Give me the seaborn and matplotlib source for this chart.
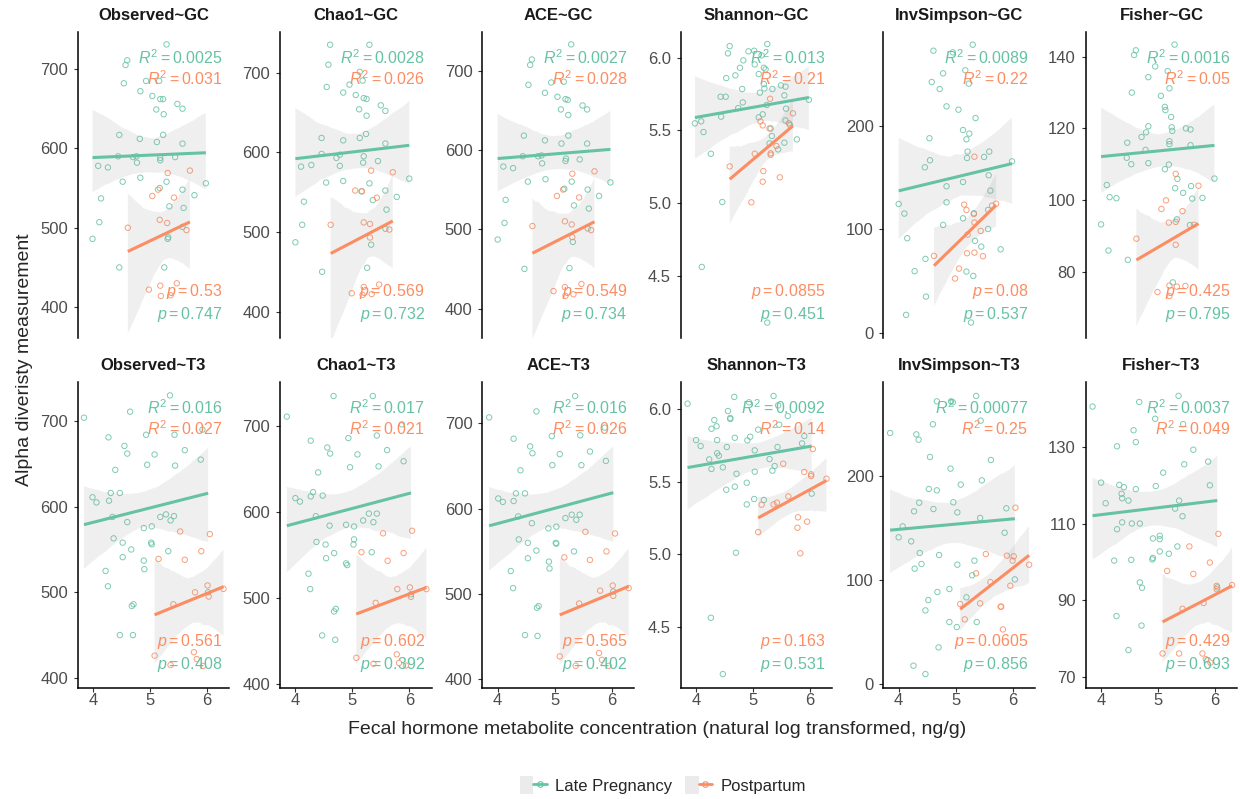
import numpy as np
import pandas as pd
import seaborn as sns
import matplotlib
matplotlib.use("Agg")
import matplotlib.pyplot as plt
from matplotlib.lines import Line2D
from matplotlib.patches import Patch
from matplotlib.legend_handler import HandlerTuple

# ---------------- data ----------------
metrics = ["Observed", "Chao1", "ACE", "Shannon", "InvSimpson", "Fisher"]
hormones = ["GC", "T3"]
groups = ["Late Pregnancy", "Postpartum"]

obs_gc_lp = [(5.29,731),(4.60,711),(4.57,705),(4.54,682),(4.93,685),(5.16,685),(4.83,672),(5.04,666),(5.18,662),(5.23,662),(5.48,656),(5.57,650),(5.11,649),(5.24,643),(4.46,617),(4.82,612),(5.23,617),(5.12,608),(5.57,606),(4.09,578),(4.26,576),(4.44,590),(4.70,589),(4.76,590),(4.77,582),(5.18,588),(5.18,585),(5.44,589),(4.52,558),(4.83,563),(5.29,558),(5.17,550),(5.57,548),(5.98,556),(5.78,541),(4.14,537),(5.34,527),(5.59,525),(4.11,507),(3.99,486),(5.31,486),(4.46,450),(5.25,450),(5.57,501),(5.32,488)]
obs_gc_pp = [(5.31,569),(5.70,572),(5.14,548),(5.04,540),(5.42,538),(5.17,510),(5.30,506),(4.61,500),(5.64,497),(4.98,422),(5.18,427),(5.47,430),(5.19,414),(5.36,415)]
chao_gc_lp = [(4.61,735),(5.30,735),(4.58,710),(5.13,701),(5.18,690),(4.55,682),(4.84,675),(4.95,685),(5.06,672),(5.20,668),(5.25,667),(5.50,659),(5.58,652),(5.12,654),(5.25,646),(4.46,618),(4.84,615),(5.13,618),(5.24,623),(5.58,611),(4.10,582),(4.28,584),(4.46,598),(4.72,593),(4.78,597),(4.78,583),(5.20,595),(5.19,587),(5.45,589),(4.54,562),(4.84,564),(5.30,561),(5.16,551),(5.58,552),(6.00,567),(5.78,544),(4.15,538),(5.36,540),(5.60,528),(4.12,509),(4.00,487),(5.33,484),(4.47,450),(5.26,455),(5.58,504)]
chao_gc_pp = [(5.33,577),(5.71,575),(5.05,552),(5.17,551),(5.43,543),(5.20,512),(5.31,510),(4.62,509),(5.65,503),(5.31,493),(4.99,423),(5.20,431),(5.47,434),(5.18,421),(5.34,422)]
ace_gc_lp = [(5.29,733),(4.60,714),(4.57,707),(4.54,682),(4.94,685),(5.16,686),(4.83,672),(5.05,667),(5.19,664),(5.23,663),(5.49,656),(5.57,651),(5.11,651),(5.24,644),(4.46,618),(4.83,612),(5.24,618),(5.12,608),(5.57,608),(4.10,579),(4.27,577),(4.44,592),(4.71,592),(4.77,593),(4.78,583),(5.20,589),(5.19,586),(5.44,588),(4.53,560),(4.84,563),(5.30,560),(5.17,551),(5.58,550),(5.98,559),(5.78,542),(4.14,537),(5.34,530),(5.60,526),(4.12,508),(4.00,487),(5.32,484),(4.47,450),(5.26,451),(5.58,501)]
ace_gc_pp = [(5.31,570),(5.70,573),(5.15,550),(5.04,542),(5.43,540),(5.18,510),(5.30,506),(4.61,504),(5.64,499),(5.31,490),(4.98,422),(5.18,427),(5.47,431),(5.19,416),(5.33,418)]
sha_gc_lp = [(4.10,4.562),(5.25,4.179),(3.98,5.549),(4.09,5.563),(4.13,5.489),(4.26,5.340),(4.46,5.008),(4.44,5.595),(4.43,5.732),(4.52,5.732),(4.53,5.860),(4.56,6.030),(4.59,6.080),(4.69,5.879),(4.74,5.654),(4.77,5.931),(4.81,5.785),(4.82,5.693),(4.83,5.982),(4.92,6.044),(5.02,6.048),(5.03,5.954),(5.10,5.888),(5.12,5.760),(5.15,6.016),(5.19,5.931),(5.22,5.920),(5.19,5.819),(5.20,5.789),(5.25,6.094),(5.34,5.785),(5.10,5.590),(5.17,5.611),(5.24,5.675),(5.31,5.514),(5.33,5.462),(5.29,5.411),(5.44,5.370),(5.49,5.810),(5.57,5.801),(5.55,5.741),(5.58,5.650),(5.57,5.569),(5.65,5.537),(5.55,5.416),(5.77,5.439),(5.98,5.711)]
sha_gc_pp = [(5.30,5.718),(5.70,5.618),(5.13,5.563),(5.17,5.535),(5.29,5.514),(5.03,5.340),(5.31,5.343),(5.31,5.333),(5.41,5.393),(5.63,5.549),(4.59,5.253),(5.18,5.221),(5.17,5.148),(5.47,5.178),(4.97,5.006)]
inv_gc_lp = [(4.00,124.5),(4.10,115.2),(4.15,91.3),(4.13,17.1),(4.28,59.4),(4.47,71.3),(4.48,34.8),(4.46,160),(4.55,166.8),(4.54,188.1),(4.58,242.6),(4.61,272.9),(4.72,235.8),(4.78,251),(4.84,219),(4.84,141.6),(4.84,126.1),(4.78,104.2),(4.95,271.3),(5.05,215.8),(5.13,196.1),(5.13,145.8),(5.13,110.6),(5.17,253.9),(5.23,241),(5.19,187.1),(5.24,192.6),(5.21,175.2),(5.20,169),(5.30,278.7),(5.35,207.7),(5.32,115.5),(5.34,88.7),(5.45,83.2),(5.19,59),(5.31,54.8),(5.27,9.7),(5.50,170),(5.59,175.2),(5.58,152.3),(5.61,137.4),(5.57,118.7),(5.57,100.3),(5.79,80.6),(5.99,165.8)]
inv_gc_pp = [(5.33,170.3),(5.15,123.9),(5.19,118.7),(5.32,114.8),(5.33,106.5),(5.21,94.8),(5.44,98.4),(5.64,122.9),(5.71,124.8),(4.62,74.2),(5.20,76.8),(5.33,77.4),(5.48,73.9),(5.06,61.9),(4.99,52.3)]
fis_gc_lp = [(4.00,93.2),(4.10,104.2),(4.13,85.9),(4.15,100.8),(4.27,100.5),(4.45,111.8),(4.46,116),(4.47,83.3),(4.53,110),(4.54,130),(4.58,140.5),(4.61,141.8),(4.71,117.6),(4.78,114),(4.79,118.9),(4.83,120.6),(4.83,134.3),(4.83,110.3),(4.95,137.3),(5.05,129.1),(5.12,126),(5.13,125.1),(5.12,108.6),(5.17,136),(5.19,109.9),(5.20,131.2),(5.20,116.4),(5.20,115.6),(5.23,123.2),(5.24,120.3),(5.25,119.3),(5.29,143.4),(5.30,103.3),(5.34,105.9),(5.33,94.6),(5.26,77),(5.44,102),(5.49,120),(5.57,119.7),(5.57,115.3),(5.58,103.9),(5.60,100.4),(5.56,93.0),(5.78,100.6),(5.99,106)]
fis_gc_pp = [(5.31,107.3),(5.71,104),(5.14,99.9),(5.06,97.5),(5.43,96.9),(5.19,93.7),(5.31,93.9),(5.63,93.1),(4.62,89.2),(5.31,87.5),(4.99,74.3),(5.20,76.1),(5.20,73.2),(5.33,75.8),(5.48,76)]

obs_t3_lp = [(3.84,704),(3.99,611),(4.06,605),(4.22,525),(4.26,507),(4.27,681),(4.28,607),(4.31,616),(4.34,588),(4.36,563),(4.39,643),(4.47,616),(4.47,450),(4.52,558),(4.52,541),(4.55,671),(4.60,662),(4.60,582),(4.65,711),(4.67,550),(4.68,484),(4.71,486),(4.70,450),(4.89,575),(4.89,537),(4.90,527),(4.93,684),(4.95,649),(5.03,577),(5.02,558),(5.03,556),(5.08,661),(5.18,588),(5.28,591),(5.32,548),(5.36,584),(5.35,730),(5.42,589),(5.43,684),(5.44,648),(5.61,666),(5.89,655),(5.92,690),(6.02,500)]
obs_t3_pp = [(5.15,539),(5.53,571),(5.61,538),(5.90,548),(6.05,568),(5.79,500),(6.01,508),(6.29,504),(5.41,486),(6.03,495),(5.08,426),(5.36,415),(5.77,430),(5.82,422),(5.93,414)]
chao_t3_lp = [(3.85,711),(4.00,616),(4.08,612),(4.23,528),(4.26,510),(4.27,683),(4.27,618),(4.31,623),(4.36,595),(4.37,565),(4.40,646),(4.48,619),(4.47,456),(4.54,546),(4.53,562),(4.56,675),(4.61,668),(4.60,584),(4.67,735),(4.68,552),(4.68,484),(4.71,487),(4.70,451),(4.89,585),(4.89,540),(4.91,538),(4.93,686),(4.96,652),(5.03,583),(5.03,568),(5.02,562),(5.09,667),(5.19,590),(5.29,598),(5.34,553),(5.37,588),(5.36,735),(5.43,598),(5.43,689),(5.46,653),(5.61,672),(5.90,659),(6.03,504),(5.87,702)]
chao_t3_pp = [(5.16,553),(5.54,575),(5.62,543),(5.90,552),(6.05,578),(5.79,510),(6.01,512),(6.30,510),(5.41,494),(6.03,501),(5.07,430),(5.37,423),(5.78,434),(5.82,424),(5.94,421)]
ace_t3_lp = [(3.85,707),(4.01,612),(4.09,608),(4.23,527),(4.27,507),(4.28,682),(4.28,609),(4.32,618),(4.36,591),(4.37,564),(4.40,645),(4.48,618),(4.48,452),(4.53,560),(4.53,542),(4.57,673),(4.61,665),(4.60,583),(4.68,714),(4.68,551),(4.69,484),(4.72,486),(4.70,451),(4.89,577),(4.90,538),(4.91,530),(4.95,685),(4.96,651),(5.03,579),(5.02,560),(5.03,559),(5.09,664),(5.19,589),(5.30,593),(5.34,550),(5.38,587),(5.36,732),(5.44,593),(5.45,686),(5.47,651),(5.62,667),(5.90,656),(5.88,695),(6.03,503)]
ace_t3_pp = [(5.17,543),(5.54,573),(5.62,540),(5.91,550),(6.06,571),(5.80,504),(6.02,510),(6.30,507),(5.43,489),(6.03,498),(5.09,427),(5.37,416),(5.78,431),(5.83,423),(5.95,416)]
sha_t3_lp = [(3.85,6.037),(4.00,5.786),(4.08,5.745),(4.23,5.653),(4.27,5.587),(4.27,5.864),(4.32,5.924),(4.36,5.881),(4.37,5.786),(4.37,5.695),(4.40,5.678),(4.26,4.562),(4.47,5.598),(4.47,4.174),(4.53,5.444),(4.54,5.738),(4.56,5.986),(4.60,5.938),(4.60,5.931),(4.67,6.083),(4.68,5.802),(4.68,5.465),(4.70,5.010),(4.71,5.554),(4.89,5.492),(4.90,5.784),(4.89,5.343),(4.93,6.046),(4.95,5.809),(5.02,5.380),(5.03,5.715),(5.03,5.568),(5.09,5.858),(5.19,5.373),(5.29,5.655),(5.34,5.575),(5.38,5.607),(5.36,6.090),(5.43,5.738),(5.44,6.025),(5.46,5.892),(5.61,5.952),(5.86,5.763),(5.90,5.814),(6.03,5.417)]
sha_t3_pp = [(5.09,5.152),(5.15,5.341),(5.36,5.343),(5.42,5.355),(5.53,5.623),(5.62,5.398),(5.79,5.254),(5.78,5.182),(5.83,5.006),(5.90,5.566),(5.95,5.224),(6.02,5.550),(6.02,5.538),(6.05,5.724),(6.29,5.520)]
inv_t3_lp = [(3.85,241.7),(4.00,141.3),(4.07,151.8),(4.22,137.4),(4.27,166.3),(4.28,111.1),(4.26,17.7),(4.31,240.4),(4.35,235.3),(4.36,174.6),(4.37,126.2),(4.40,115.6),(4.47,9.6),(4.47,70.9),(4.52,80.9),(4.53,187.8),(4.55,218.6),(4.60,250.1),(4.61,168.5),(4.67,272.2),(4.67,186.5),(4.68,88.6),(4.70,35.3),(4.71,124.2),(4.89,91.5),(4.89,59.7),(4.91,207.4),(4.92,272.2),(4.95,271.3),(4.96,175),(5.02,54.9),(5.03,165.3),(5.03,114.9),(5.09,192),(5.19,83.5),(5.29,104.7),(5.33,118.8),(5.36,277.4),(5.37,59.7),(5.43,159.9),(5.44,253.6),(5.46,196.1),(5.62,215.7),(5.86,145.7),(5.89,169.2),(6.04,100.8)]
inv_t3_pp = [(5.08,77.0),(5.16,62.3),(5.36,106.6),(5.43,77.7),(5.53,125.2),(5.61,98.2),(5.79,74.5),(5.80,74.5),(5.83,52.6),(5.90,123.6),(5.96,94.7),(6.02,123),(6.00,118.8),(6.05,169.8),(6.29,114.9)]
fis_t3_lp = [(3.85,140.7),(4.00,120.8),(4.08,115.4),(4.23,100.4),(4.27,85.9),(4.28,130.3),(4.28,108.6),(4.32,120.2),(4.36,117.9),(4.37,116.7),(4.37,110.4),(4.40,119.6),(4.48,116.1),(4.48,77),(4.53,100.6),(4.54,110.1),(4.57,134.5),(4.61,131.4),(4.61,119.1),(4.67,141.9),(4.68,110.1),(4.68,94.7),(4.72,93.3),(4.71,83.4),(4.91,106.2),(4.90,100.7),(4.91,101.1),(4.95,137.5),(4.96,119.9),(5.03,106.9),(5.03,106),(5.03,102.8),(5.09,123.4),(5.19,102.2),(5.30,114),(5.34,104.1),(5.37,116.1),(5.36,143.5),(5.43,112),(5.44,136.1),(5.46,125.6),(5.62,129.4),(5.88,126.3),(5.91,120.1),(6.04,93.4)]
fis_t3_pp = [(5.08,76.1),(5.16,97.7),(5.37,76.1),(5.43,87.8),(5.55,104.1),(5.62,96.9),(5.78,76.1),(5.80,89.3),(5.84,74.6),(5.92,73.7),(5.91,99.9),(6.03,93.8),(6.06,107.4),(6.30,94),(6.03,92.9)]

lp_sets = [obs_gc_lp, chao_gc_lp, ace_gc_lp, sha_gc_lp, inv_gc_lp, fis_gc_lp,
           obs_t3_lp, chao_t3_lp, ace_t3_lp, sha_t3_lp, inv_t3_lp, fis_t3_lp]
pp_sets = [obs_gc_pp, chao_gc_pp, ace_gc_pp, sha_gc_pp, inv_gc_pp, fis_gc_pp,
           obs_t3_pp, chao_t3_pp, ace_t3_pp, sha_t3_pp, inv_t3_pp, fis_t3_pp]

r2_lp = ["0.0025", "0.0028", "0.0027", "0.013", "0.0089", "0.0016",
         "0.016", "0.017", "0.016", "0.0092", "0.00077", "0.0037"]
r2_pp = ["0.031", "0.026", "0.028", "0.21", "0.22", "0.05",
         "0.027", "0.021", "0.026", "0.14", "0.25", "0.049"]
p_lp = ["0.747", "0.732", "0.734", "0.451", "0.537", "0.795",
        "0.408", "0.392", "0.402", "0.531", "0.856", "0.693"]
p_pp = ["0.53", "0.569", "0.549", "0.0855", "0.08", "0.425",
        "0.561", "0.602", "0.565", "0.163", "0.0605", "0.429"]

y_limits = [(361.2, 747), (367, 751.4), (363, 749), (4.074, 6.179), (-5.2, 291.3), (61.5, 147),
            (388.3, 746), (394.9, 751.7), (390.1, 748.8), (4.079, 6.188), (-3.7, 291.1), (67.1, 147.2)]
y_ticks = [[400, 500, 600, 700]] * 3 + [[4.5, 5.0, 5.5, 6.0], [0, 100, 200], [80, 100, 120, 140]] + \
          [[400, 500, 600, 700]] * 3 + [[4.5, 5.0, 5.5, 6.0], [0, 100, 200], [70, 90, 110, 130]]
x_limits = (3.73, 6.39)
x_ticks = [4, 5, 6]

# ---------------- style ----------------
sns.set_theme(style="ticks")
plt.rcParams["font.family"] = ["Liberation Sans", "DejaVu Sans"]
plt.rcParams["mathtext.fontset"] = "custom"
plt.rcParams["mathtext.rm"] = "Liberation Sans"
plt.rcParams["mathtext.it"] = "Liberation Sans:italic"
plt.rcParams["mathtext.bf"] = "Liberation Sans:bold"

colors = ["#66C2A5", "#FC8D62"]
band_color = (0.6, 0.6, 0.6, 0.2)

W, H = 1240, 799
fig = plt.figure(figsize=(W / 100, H / 100), dpi=100)

lefts = [77.7, 280, 482.3, 680.7, 883.3, 1085.7]
panel_w = 151.5
row_tops = [31.7, 381.7]
panel_h = 306.2

for i in range(12):
    row, col = divmod(i, 6)
    l, t = lefts[col], row_tops[row]
    ax = fig.add_axes([l / W, 1 - (t + panel_h) / H, panel_w / W, panel_h / H])
    sets = [lp_sets[i], pp_sets[i]]
    # points first
    for g, pts in enumerate(sets):
        df = pd.DataFrame(pts, columns=["x", "y"])
        sns.regplot(data=df, x="x", y="y", ax=ax, fit_reg=False, color=colors[g],
                    scatter_kws=dict(s=15, facecolors="none", linewidths=0.7, alpha=0.85, zorder=2))
    # smooth lines with confidence band
    for g, pts in enumerate(sets):
        df = pd.DataFrame(pts, columns=["x", "y"])
        n0 = len(ax.collections)
        sns.regplot(data=df, x="x", y="y", ax=ax, scatter=False, color=colors[g], ci=95,
                    n_boot=1000, seed=3, line_kws=dict(lw=2.2, zorder=4, solid_capstyle="butt"))
        for coll in ax.collections[n0:]:
            coll.set_facecolor(band_color)
            coll.set_edgecolor("none")
            coll.set_zorder(3)

    ax.set_xlim(*x_limits)
    ax.set_ylim(*y_limits[i])
    ax.set_yticks(y_ticks[i])
    if metrics[col] == "Shannon":
        ax.set_yticklabels([f"{v:.1f}" for v in y_ticks[i]])
    ax.set_xticks(x_ticks)
    ax.set_xlabel("")
    ax.set_ylabel("")
    ax.grid(False)
    for s in ["top", "right"]:
        ax.spines[s].set_visible(False)
    ax.spines["left"].set_linewidth(1.1)
    ax.spines["left"].set_color("black")
    ax.tick_params(axis="y", left=True, length=3, width=0.8, color="#333333",
                   labelsize=12, labelcolor="#4D4D4D", pad=4)
    if row == 0:
        ax.spines["bottom"].set_visible(False)
        ax.tick_params(axis="x", bottom=False, labelbottom=False)
    else:
        ax.spines["bottom"].set_linewidth(1.1)
        ax.spines["bottom"].set_color("black")
        ax.tick_params(axis="x", bottom=True, length=3, width=0.8, color="#333333",
                       labelsize=12, labelcolor="#4D4D4D", pad=1)

    ax.text(0.5, 1 + 16.5 / panel_h, f"{metrics[col]}~{hormones[row]}", transform=ax.transAxes,
            ha="center", va="center", fontsize=12, fontweight="bold", color="#1A1A1A")
    ax.text(0.955, 0.915, rf"$R^2 = {r2_lp[i]}$", transform=ax.transAxes, ha="right",
            va="center", color=colors[0], fontsize=11.5, zorder=6)
    ax.text(0.955, 0.847, rf"$R^2 = {r2_pp[i]}$", transform=ax.transAxes, ha="right",
            va="center", color=colors[1], fontsize=11.5, zorder=6)
    ax.text(0.955, 0.153, rf"$p = {p_pp[i]}$", transform=ax.transAxes, ha="right",
            va="center", color=colors[1], fontsize=11.5, zorder=6)
    ax.text(0.955, 0.078, rf"$p = {p_lp[i]}$", transform=ax.transAxes, ha="right",
            va="center", color=colors[0], fontsize=11.5, zorder=6)

fig.text(657.5 / W, 1 - 730 / H,
         "Fecal hormone metabolite concentration (natural log transformed, ng/g)",
         ha="center", va="center", fontsize=14)
fig.text(25 / W, 1 - 360 / H, "Alpha diveristy measurement", rotation=90,
         ha="center", va="center", fontsize=14)

handles = [(Patch(facecolor="#EBEBEB", edgecolor="none"),
            Line2D([], [], color=c, lw=2, marker="o", mfc="none", mec=c, ms=4, mew=0.8))
           for c in colors]
fig.legend(handles, groups, handler_map={tuple: HandlerTuple(ndivide=None, pad=0)},
           loc="center", bbox_to_anchor=(663 / W, 1 - 785 / H), ncol=2, frameon=False,
           fontsize=12, handlelength=1.6, handleheight=1.2, handletextpad=0.5, columnspacing=0.8)

fig.savefig("out.png", dpi=100)
